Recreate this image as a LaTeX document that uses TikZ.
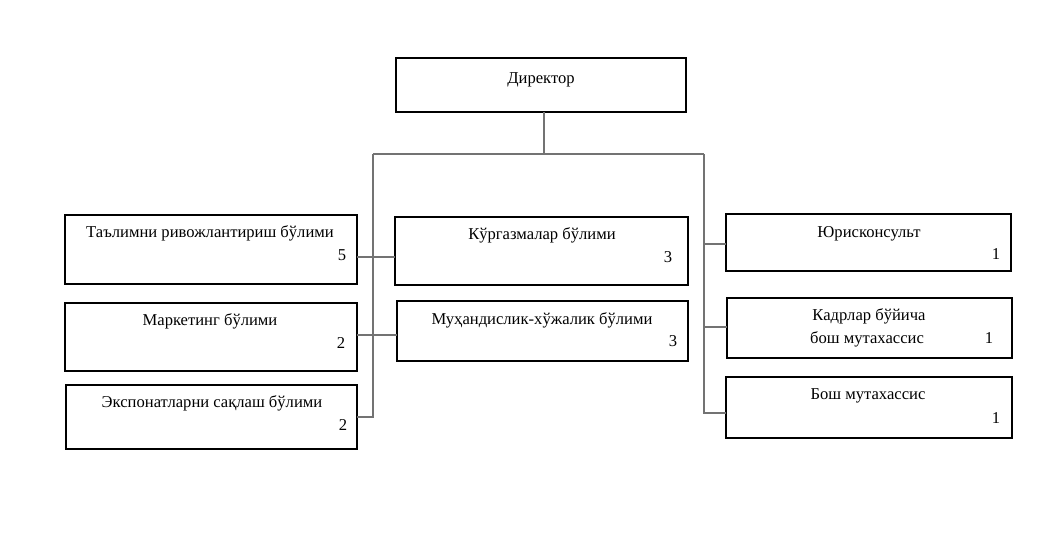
\documentclass[tikz,border=0pt]{standalone}
\usepackage{fontspec}
\setmainfont{Liberation Serif}
\usetikzlibrary{calc}
\newcommand\mkbox[5]{\node[box, minimum width={#4-#2}, minimum height={#5-#3}] (#1) at ({(#2+#4)/2},{(#3+#5)/2}) {};}
\tikzset{
  box/.style={draw=black, line width=1.4pt, rectangle, inner sep=0pt, outer sep=0pt, fill=white},
  lbl/.style={anchor=base, inner sep=0pt, font=\fontsize{16.6}{19}\selectfont},
  conn/.style={draw=black!55, line width=1.1pt}
}
\begin{document}
\begin{tikzpicture}[x=1pt,y=-1pt]
\useasboundingbox[fill=white] (0,0) rectangle (1048,541);
% boxes
\mkbox{dir}{396}{58}{686}{112}
\mkbox{l1}{65}{215}{357}{284}
\mkbox{l2}{65}{303}{357}{371}
\mkbox{l3}{66}{385}{357}{449}
\mkbox{c1}{395}{217}{688}{285}
\mkbox{c2}{397}{301}{688}{361}
\mkbox{r1}{726}{214}{1011}{271}
\mkbox{r2}{727}{298}{1012}{358}
\mkbox{r3}{726}{377}{1012}{438}
% labels
\node[lbl] (tdir) at (541,83) {Директор};
\node[lbl] (tl1) at (210,237) {Таълимни ривожлантириш бўлими};
\node[lbl] (nl1) at (342,260) {5};
\node[lbl] (tl2) at (210,325) {Маркетинг бўлими};
\node[lbl] (nl2) at (341,348) {2};
\node[lbl] (tl3) at (212,407) {Экспонатларни сақлаш бўлими};
\node[lbl] (nl3) at (343,430) {2};
\node[lbl] (tc1) at (542,239) {Кўргазмалар бўлими};
\node[lbl] (nc1) at (668,262) {3};
\node[lbl] (tc2) at (542,324) {Муҳандислик-хўжалик бўлими};
\node[lbl] (nc2) at (673,346) {3};
\node[lbl] (tr1) at (869,237) {Юрисконсульт};
\node[lbl] (nr1) at (996,259) {1};
\node[lbl] (tr2a) at (869,320) {Кадрлар бўйича};
\node[lbl] (tr2b) at (867,343) {бош мутахассис};
\node[lbl] (nr2) at (989,343) {1};
\node[lbl] (tr3) at (868,399) {Бош мутахассис};
\node[lbl] (nr3) at (996,423) {1};
% connectors
\coordinate (bl) at (373,154);
\coordinate (br) at (704,154);
\coordinate (stem) at (544,112);
\draw[conn] (stem) -- (stem |- bl);
\draw[conn] (bl) -- (br);
\coordinate (lend) at (373,417);
\draw[conn] (bl) -- (lend) -- (l3.east |- lend);
\coordinate (h1) at (0,257);
\draw[conn] (l1.east |- h1) -- (c1.west |- h1);
\coordinate (h2) at (0,335);
\draw[conn] (l2.east |- h2) -- (c2.west |- h2);
\coordinate (rend) at (704,413);
\draw[conn] (br) -- (rend) -- (r3.west |- rend);
\coordinate (h3) at (0,244);
\draw[conn] (br |- h3) -- (r1.west |- h3);
\coordinate (h4) at (0,327);
\draw[conn] (br |- h4) -- (r2.west |- h4);
\end{tikzpicture}
\end{document}
